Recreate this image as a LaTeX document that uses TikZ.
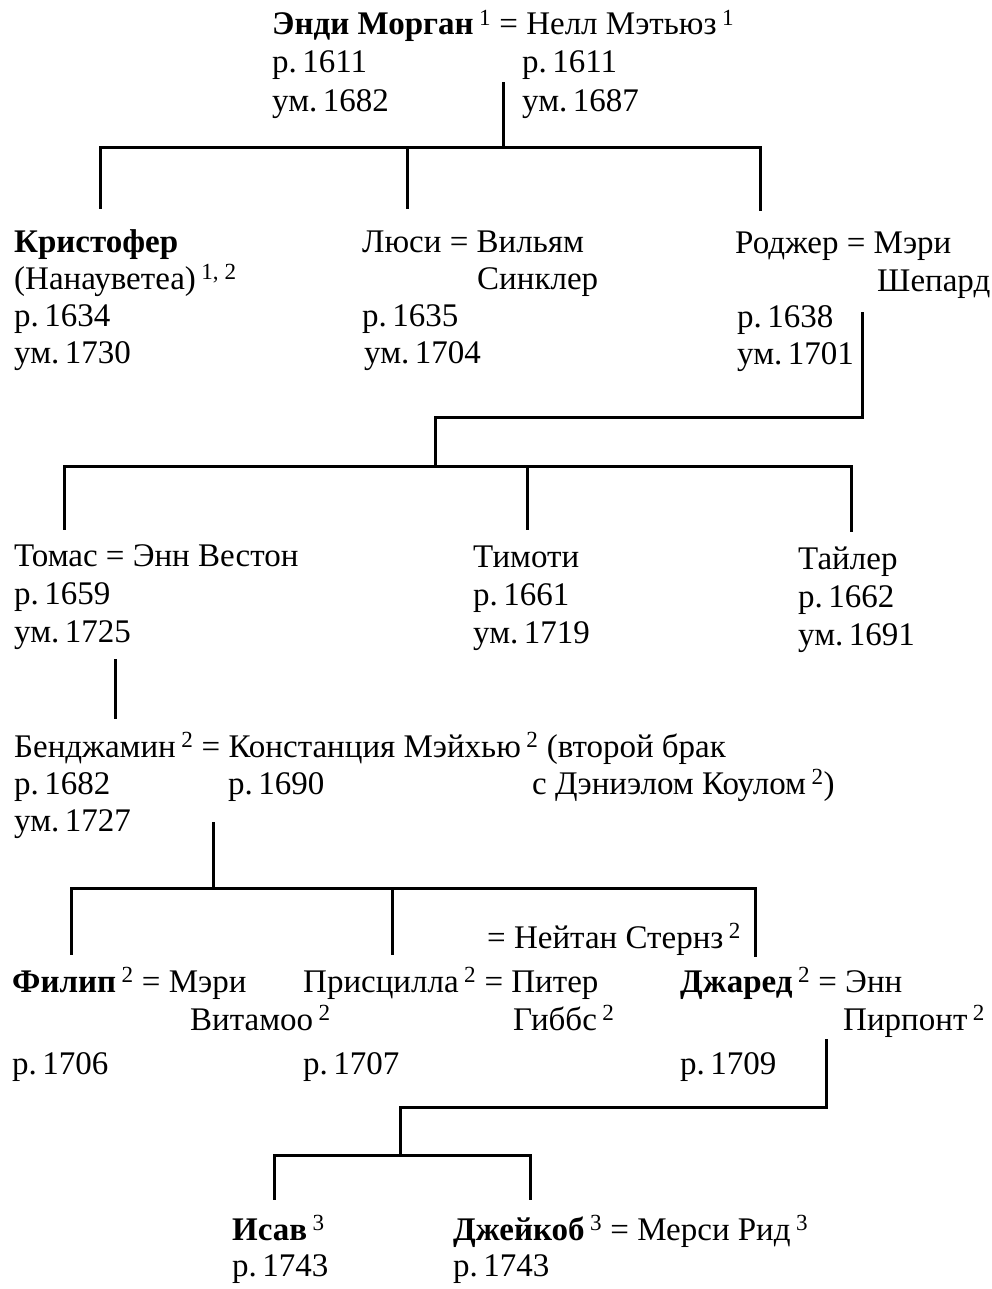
\documentclass[tikz,border=0pt]{standalone}
\usepackage{fontspec}
\setmainfont{Liberation Serif}
\newcommand{\gensup}[1]{\,\textsuperscript{#1}}

\begin{document}
\begin{tikzpicture}[x=1pt, y=-1pt,
    person/.style = {anchor=base west, inner sep=0pt,
                     font=\fontsize{33}{39}\selectfont},
    line/.style   = {line width=3pt, line cap=rect}]
\useasboundingbox (0,0) rectangle (991,1289);

% level 0
\node[person] (andy) at (272,35)
    {\textbf{Энди Морган}\gensup{1} = Нелл Мэтьюз\gensup{1}};
\node[person] (andyR) at (272,73) {р.\,1611};
\node[person] (andyD) at (272,112) {ум.\,1682};
\node[person] (nellR) at (522,73) {р.\,1611};
\node[person] (nellD) at (522,112) {ум.\,1687};

% level 1
\node[person] (chris) at (14,252) {\textbf{Кристофер}};
\node[person] (chrisN) at (14,289) {(Нанауветеа)\gensup{1, 2}};
\node[person] (chrisR) at (14,326) {р.\,1634};
\node[person] (chrisD) at (14,363) {ум.\,1730};
\node[person] (lucy) at (362,252) {Люси = Вильям};
\node[person] (lucyS) at (477,289) {Синклер};
\node[person] (lucyR) at (362,326) {р.\,1635};
\node[person] (lucyD) at (364,363) {ум.\,1704};
\node[person] (roger) at (735,253) {Роджер = Мэри};
\node[person] (rogerS) at (877,291) {Шепард};
\node[person] (rogerR) at (737,327) {р.\,1638};
\node[person] (rogerD) at (737,364) {ум.\,1701};

% level 2
\node[person] (thomas) at (14,566) {Томас = Энн Вестон};
\node[person] (thomasR) at (14,604) {р.\,1659};
\node[person] (thomasD) at (14,642) {ум.\,1725};
\node[person] (tim) at (473,567) {Тимоти};
\node[person] (timR) at (473,605) {р.\,1661};
\node[person] (timD) at (473,643) {ум.\,1719};
\node[person] (tyler) at (798,569) {Тайлер};
\node[person] (tylerR) at (798,607) {р.\,1662};
\node[person] (tylerD) at (798,645) {ум.\,1691};

% level 3
\node[person] (ben) at (14,757)
    {Бенджамин\gensup{2} = Констанция Мэйхью\gensup{2} (второй брак};
\node[person] (benR) at (14,794) {р.\,1682};
\node[person] (benD) at (14,831) {ум.\,1727};
\node[person] (constR) at (228,794) {р.\,1690};
\node[person] (constS) at (532,794) {с Дэниэлом Коулом\gensup{2})};

% level 4
\node[person] (nathan) at (487,948) {= Нейтан Стернз\gensup{2}};
\node[person] (phil) at (12,992) {\textbf{Филип}\gensup{2} = Мэри};
\node[person] (philS) at (190,1030) {Витамоо\gensup{2}};
\node[person] (philR) at (12,1074) {р.\,1706};
\node[person] (pris) at (303,992) {Присцилла\gensup{2} = Питер};
\node[person] (prisS) at (513,1030) {Гиббс\gensup{2}};
\node[person] (prisR) at (303,1074) {р.\,1707};
\node[person] (jared) at (680,992) {\textbf{Джаред}\gensup{2} = Энн};
\node[person] (jaredS) at (843,1030) {Пирпонт\gensup{2}};
\node[person] (jaredR) at (680,1074) {р.\,1709};

% level 5
\node[person] (esau) at (232,1240) {\textbf{Исав}\gensup{3}};
\node[person] (esauR) at (232,1276) {р.\,1743};
\node[person] (jacob) at (453,1240)
    {\textbf{Джейкоб}\gensup{3} = Мерси Рид\gensup{3}};
\node[person] (jacobR) at (453,1276) {р.\,1743};

% junctions
\coordinate (andyT) at (503,84);
\coordinate (andyJ) at (503,148);
\coordinate (chrisT) at (100,208);
\coordinate (lucyT) at (407,208);
\coordinate (rogerT) at (760,210);

\coordinate (rogerB) at (862,313);
\coordinate (rogerJ) at (862,417);
\coordinate (rogerK) at (435,417);
\coordinate (rogerL) at (435,466);
\coordinate (thomasT) at (64,528);
\coordinate (timT) at (527,528);
\coordinate (tylerT) at (851,530);

\coordinate (thomasB) at (115,660);
\coordinate (benT) at (115,717);

\coordinate (benB) at (213,823);
\coordinate (benJ) at (213,888);
\coordinate (philT) at (71,953);
\coordinate (prisT) at (392,953);
\coordinate (nathanT) at (755,955);

\coordinate (jaredB) at (826,1040);
\coordinate (jaredJ) at (826,1107);
\coordinate (jaredK) at (400,1107);
\coordinate (jaredL) at (400,1155);
\coordinate (esauT) at (274,1198);
\coordinate (jacobT) at (530,1198);

% lines
\draw[line] (andyT) -- (andyJ);
\draw[line] (chrisT) |- (andyJ) -| (rogerT);
\draw[line] (lucyT) -- (lucyT |- andyJ);

\draw[line] (rogerB) -- (rogerJ) -- (rogerK) -- (rogerL);
\draw[line] (thomasT) |- (rogerL) -| (tylerT);
\draw[line] (timT) -- (timT |- rogerL);

\draw[line] (thomasB) -- (benT);

\draw[line] (benB) -- (benJ);
\draw[line] (philT) |- (benJ) -| (nathanT);
\draw[line] (prisT) -- (prisT |- benJ);

\draw[line] (jaredB) -- (jaredJ) -- (jaredK) -- (jaredL);
\draw[line] (esauT) |- (jaredL) -| (jacobT);
\end{tikzpicture}
\end{document}
